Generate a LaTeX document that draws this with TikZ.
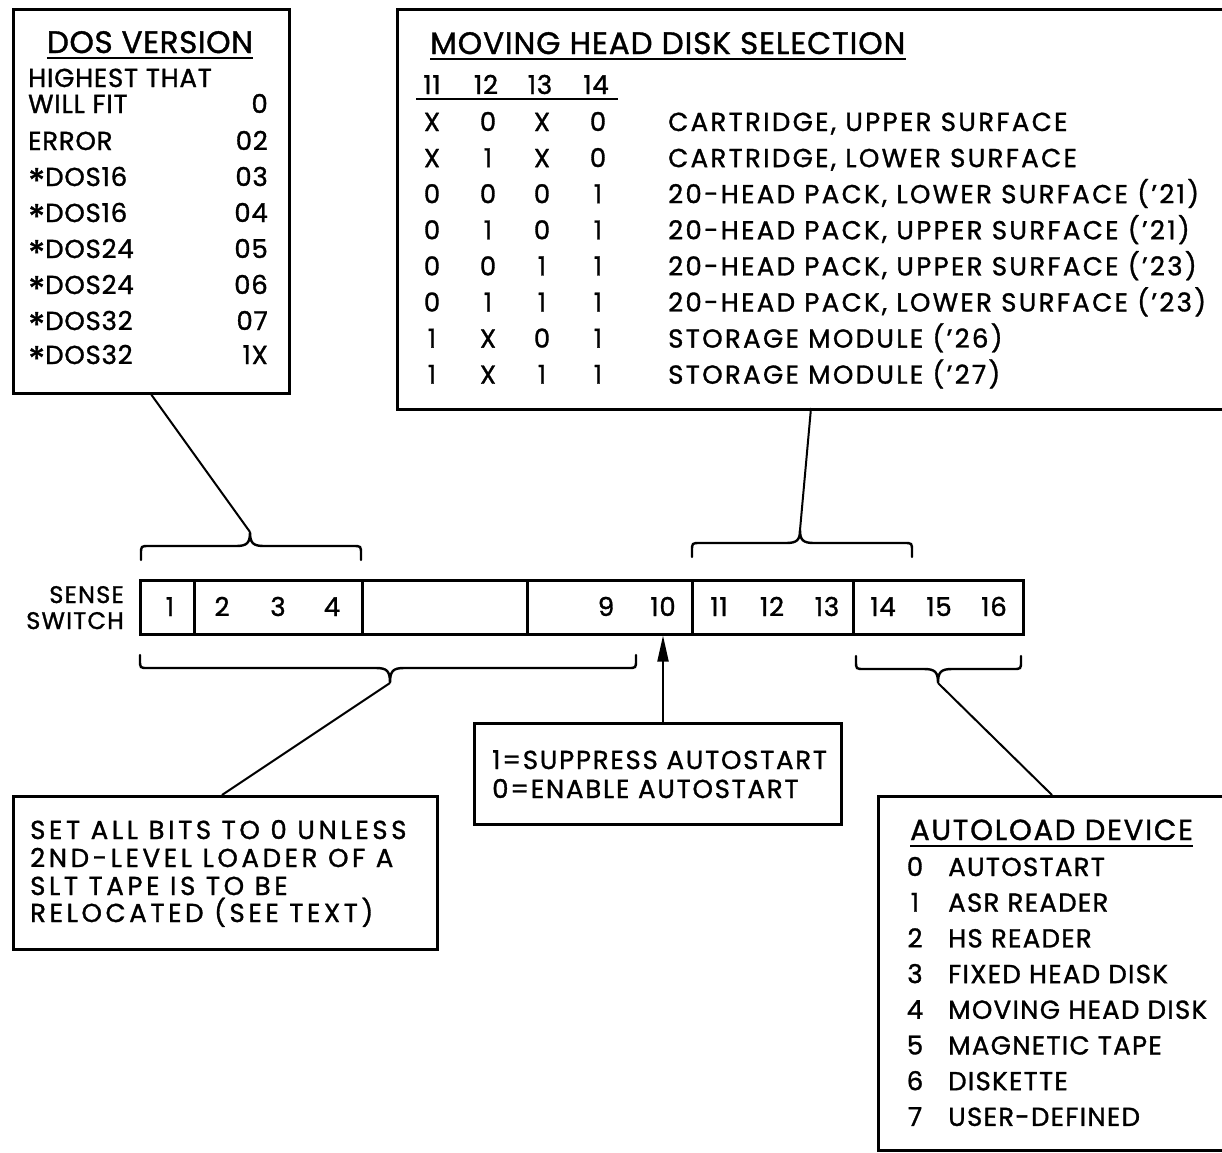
\documentclass[tikz,border=0pt]{standalone}
\usepackage{fontspec}
\setmainfont{Poppins}[FakeBold=1.2]
\usetikzlibrary{arrows.meta}
\newcommand\fnt[2]{\fontsize{#1}{#1}\selectfont\addfontfeatures{LetterSpace=#2}}
\newcommand\dosast{\smash{\raisebox{-0.3em}{\fontsize{35}{35}\selectfont*}}}
\begin{document}
\begin{tikzpicture}[x=1pt,y=-1pt,
  box/.style={draw, line width=2.7pt, inner sep=0pt, anchor=north west},
  cell/.style={draw, line width=2.5pt, inner sep=0pt, anchor=north west, minimum height=54pt},
  txt/.style={inner sep=0pt, anchor=base west, font=\fnt{26}{3}},
  txtr/.style={txt, anchor=base east},
  txtc/.style={txt, anchor=base},
  ttl/.style={txt, font=\fnt{31}{2}},
  dosf/.style={font=\fnt{26}{3}},
  mhdf/.style={font=\fnt{26}{9}},
  setf/.style={font=\fnt{26}{14}},
  supf/.style={font=\fnt{26}{6.8}},
  autof/.style={font=\fnt{26}{5}},
  conn/.style={line width=2pt},
  br/.style={line width=2.4pt, line cap=round},
  uline/.style={line width=2.2pt}
]
\useasboundingbox (0,0) rectangle (1222,1152);
\clip (0,0) rectangle (1222,1152);

% ---------- DOS VERSION box ----------
\node[box, minimum width=276pt, minimum height=384pt] (dos) at (12,8) {};
\node[ttl, anchor=base] (dost) at (150,53) {DOS VERSION};
\draw[uline] ([yshift=-5pt]dost.base west) -- ([yshift=-5pt]dost.base east);
\node[txt, dosf] (d0a) at (28,87) {HIGHEST THAT};
\node[txt, dosf] (d0b) at (28,113) {WILL FIT};
\node[txtr, dosf] (d0c) at (268,113) {0};
\node[txt, dosf] (d1) at (28,150) {ERROR};
\node[txtr, dosf] (d1v) at (268,150) {02};
\node[txt, dosf] (d2) at (28,186) {\dosast DOS16};
\node[txtr, dosf] (d2v) at (268,186) {03};
\node[txt, dosf] (d3) at (28,222) {\dosast DOS16};
\node[txtr, dosf] (d3v) at (268,222) {04};
\node[txt, dosf] (d4) at (28,258) {\dosast DOS24};
\node[txtr, dosf] (d4v) at (268,258) {05};
\node[txt, dosf] (d5) at (28,294) {\dosast DOS24};
\node[txtr, dosf] (d5v) at (268,294) {06};
\node[txt, dosf] (d6) at (28,330) {\dosast DOS32};
\node[txtr, dosf] (d6v) at (268,330) {07};
\node[txt, dosf] (d7) at (28,364) {\dosast DOS32};
\node[txtr, dosf] (d7v) at (268,364) {1X};

% ---------- MOVING HEAD DISK SELECTION box ----------
\node[box, minimum width=840pt, minimum height=400pt] (mhd) at (396,8) {};
\node[ttl, font=\fnt{31}{3}] (mhdt) at (430,54) {MOVING HEAD DISK SELECTION};
\draw[uline] ([yshift=-5pt]mhdt.base west) -- ([yshift=-5pt]mhdt.base east);
\node[txtc] (h11) at (432,94) {11};
\node[txtc] (h12) at (486,94) {12};
\node[txtc] (h13) at (540,94) {13};
\node[txtc] (h14) at (596,94) {14};
\draw[uline] (416,99) -- (618,99);
\foreach \a/\b/\c/\d/\desc [count=\i] in {
  X/0/X/0/{CARTRIDGE, UPPER SURFACE},
  X/1/X/0/{CARTRIDGE, LOWER SURFACE},
  0/0/0/1/{20-HEAD PACK, LOWER SURFACE ('21)},
  0/1/0/1/{20-HEAD PACK, UPPER SURFACE ('21)},
  0/0/1/1/{20-HEAD PACK, UPPER SURFACE ('23)},
  0/1/1/1/{20-HEAD PACK, LOWER SURFACE ('23)},
  1/X/0/1/{STORAGE MODULE ('26)},
  1/X/1/1/{STORAGE MODULE ('27)}} {
  \pgfmathsetmacro{\yb}{131+36.1*(\i-1)}
  \node[txtc] (ma\i) at (432,\yb) {\a};
  \node[txtc] (mb\i) at (488,\yb) {\b};
  \node[txtc] (mc\i) at (542,\yb) {\c};
  \node[txtc] (md\i) at (598,\yb) {\d};
  \node[txt, mhdf] (mt\i) at (668,\yb) {\desc};
}

% ---------- register ----------
\node[txtr, font=\fnt{24}{5}] (sense) at (124,603) {SENSE};
\node[txtr, font=\fnt{24}{5}] (switch) at (124,629) {SWITCH};
\node[cell, minimum width=54pt] (c1) at (139,579) {};
\node[cell, minimum width=168pt] (c24) at (193,579) {};
\node[cell, minimum width=165pt] (cbl) at (361,579) {};
\node[cell, minimum width=165pt] (c910) at (526,579) {};
\node[cell, minimum width=161pt] (c1113) at (691,579) {};
\node[cell, minimum width=170pt] (c1416) at (852,579) {};
\foreach \n/\x in {1/170,2/222,3/278,4/332,9/606,10/663,11/719,12/772,13/827,14/883,15/939,16/994}
  \node[txtc] (t\n) at (\x,616) {\n};

% ---------- braces ----------
\coordinate (tipA) at (250,532);
\coordinate (tipB) at (800,530);
\coordinate (tipC) at (390,683);
\coordinate (tipD) at (938,683);
\draw[br] (141,560) -- (141,554) .. controls (141,546) .. (149,546) -- (236,546)
  .. controls (247,546) and (250,543) .. (tipA) .. controls (250,543) and (253,546) .. (264,546)
  -- (353,546) .. controls (361,546) .. (361,554) -- (361,560);
\draw[br] (692,557) -- (692,551) .. controls (692,543) .. (700,543) -- (786,543)
  .. controls (797,543) and (800,540) .. (tipB) .. controls (800,540) and (803,543) .. (814,543)
  -- (904,543) .. controls (912,543) .. (912,551) -- (912,557);
\draw[br] (140,655) -- (140,660) .. controls (140,668) .. (148,668) -- (376,668)
  .. controls (387,668) and (390,671) .. (tipC) .. controls (390,671) and (393,668) .. (404,668)
  -- (628,668) .. controls (636,668) .. (636,660) -- (636,655);
\draw[br] (856,656) -- (856,661) .. controls (856,669) .. (864,669) -- (924,669)
  .. controls (935,669) and (938,672) .. (tipD) .. controls (938,672) and (941,669) .. (952,669)
  -- (1013,669) .. controls (1021,669) .. (1021,661) -- (1021,656);

% ---------- bottom boxes ----------
\node[box, minimum width=424pt, minimum height=153pt] (set) at (12,795) {};
\node[txt, setf] (s1) at (30,839) {SET ALL BITS TO 0 UNLESS};
\node[txt, setf] (s2) at (30,867) {2ND-LEVEL LOADER OF A};
\node[txt, setf] (s3) at (30,895) {SLT TAPE IS TO BE};
\node[txt, setf] (s4) at (30,922) {RELOCATED (SEE TEXT)};

\node[box, minimum width=367pt, minimum height=101pt] (supp) at (473,722) {};
\node[txt, supf] (p1) at (492,769) {1=SUPPRESS AUTOSTART};
\node[txt, supf] (p2) at (492,798) {0=ENABLE AUTOSTART};

\node[box, minimum width=360pt, minimum height=354pt] (auto) at (877,795) {};
\node[ttl, font=\fnt{29}{6}] (autot) at (910,840) {AUTOLOAD DEVICE};
\draw[uline] ([yshift=-6pt]autot.base west) -- ([yshift=-6pt]autot.base east);
\foreach \n/\t [count=\i] in {0/AUTOSTART,1/ASR READER,2/HS READER,3/FIXED HEAD DISK,
  4/MOVING HEAD DISK,5/MAGNETIC TAPE,6/DISKETTE,7/USER-DEFINED} {
  \pgfmathsetmacro{\yb}{876+35.7*(\i-1)}
  \node[txtc, autof] (an\i) at (915,\yb) {\n};
  \node[txt, autof] (at\i) at (948,\yb) {\t};
}

% ---------- connectors ----------
\coordinate (mhdfoot) at (811,408);
\coordinate (setfoot) at (222,795);
\coordinate (autofoot) at (1052,795);
\draw[conn] (dos.south) -- (tipA);
\draw[conn] (mhdfoot) -- (tipB);
\draw[conn] (tipC) -- (setfoot);
\draw[conn] (tipD) -- (autofoot);
\draw[conn, -{Triangle[length=26pt,width=11pt]}] (supp.north -| t10) -- (t10 |- c910.south);
\end{tikzpicture}
\end{document}
